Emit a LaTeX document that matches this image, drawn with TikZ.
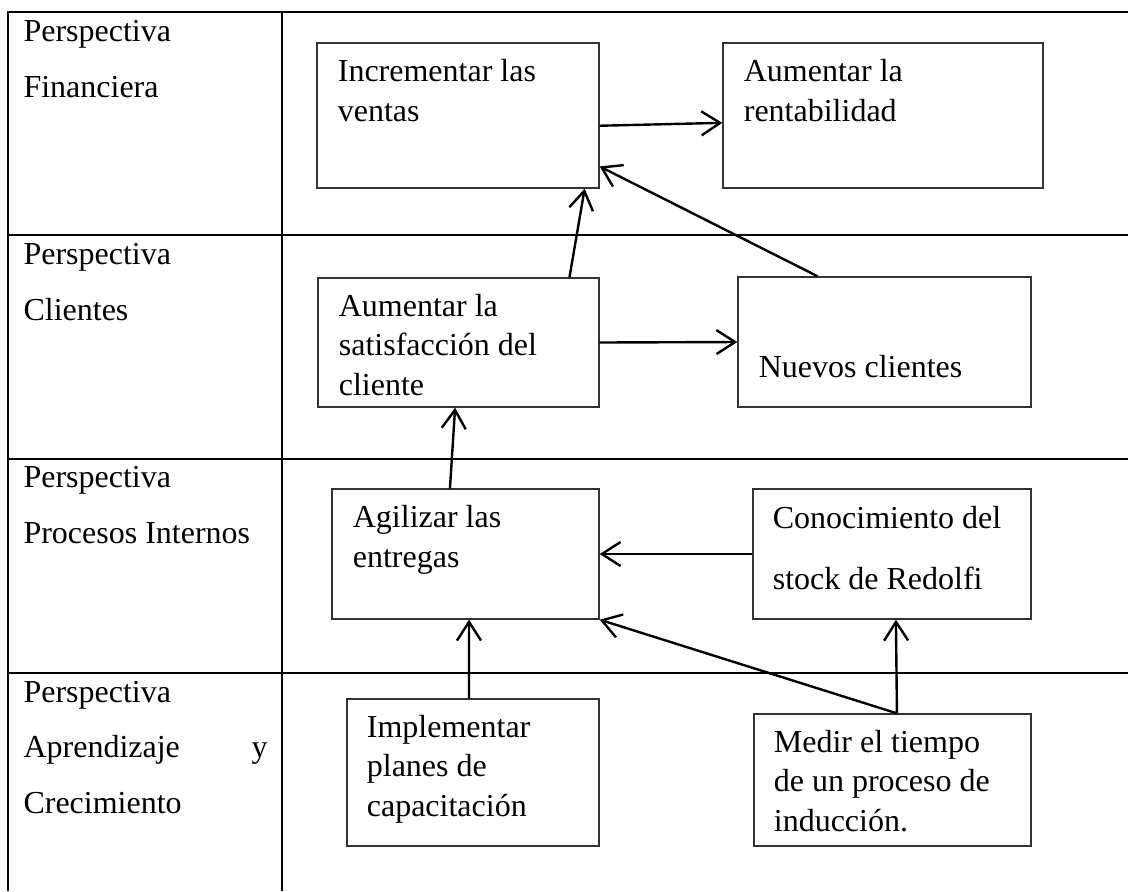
\documentclass[tikz,border=0pt]{standalone}
\usepackage{fontspec}
\setmainfont{Liberation Serif}
\usetikzlibrary{arrows.meta,fit,calc}
\tikzset{
  caja/.style={draw=black!80, line width=0.5pt, inner sep=0pt},
  texto/.style={anchor=base west, inner sep=0pt, align=left, font=\fontsize{12}{14.8}\selectfont},
  persp/.style={anchor=base west, inner sep=0pt, align=left, font=\fontsize{12}{20.7}\selectfont},
  flecha/.style={-{Straight Barb[length=7pt,width=9pt]}, line width=0.9pt},
  tabla/.style={line width=1pt}
}

\begin{document}
\begin{tikzpicture}[x=0.375pt,y=-0.375pt]
\useasboundingbox (0,0) rectangle (1128,891);
\draw[tabla] (1128,12) -- (8,12) -- (8,891);
\draw[tabla] (282,12) -- (282,891);
\draw[tabla] (8,235) -- (1128,235);
\draw[tabla] (8,459) -- (1128,459);
\draw[tabla] (8,673) -- (1128,673);
\node[persp] (fin) at (23,97) {Perspectiva\\Financiera};
\node[persp] (cli) at (23,320) {Perspectiva\\Clientes};
\node[persp] (pro) at (23,543) {Perspectiva\\Procesos Internos};
\node[persp] (apr) at (23,813) {Perspectiva\\\makebox[91.5pt][l]{Aprendizaje\hfill y}\\Crecimiento};
\node[caja, fit={(317,43) (599,188)}] (ventas) {};
\node[caja, fit={(723,43) (1043,188)}] (rentab) {};
\node[caja, fit={(318,278) (599,407)}] (satisf) {};
\node[caja, fit={(738,277) (1031,407)}] (nuevos) {};
\node[caja, fit={(332,489) (599,619)}] (agil) {};
\node[caja, fit={(753,489) (1031,619)}] (conoc) {};
\node[caja, fit={(347,699) (599,846)}] (implem) {};
\node[caja, fit={(754,714) (1031,846)}] (medir) {};
\node[texto] (ventas-t) at ([shift={(21,79)}]ventas.north west) {Incrementar las\\ventas};
\node[texto] (rentab-t) at ([shift={(21,79)}]rentab.north west) {Aumentar la\\rentabilidad};
\node[texto] (satisf-t) at ([shift={(21,118)}]satisf.north west) {Aumentar la\\satisfacción del\\cliente};
\node[texto] (nuevos-t) at ([shift={(21,101)}]nuevos.north west) {Nuevos clientes};
\node[texto] (agil-t) at ([shift={(21,79)}]agil.north west) {Agilizar las\\entregas};
\node[texto] (conoc-t) at ([shift={(20,101)}]conoc.north west) {Conocimiento del\\[8.1pt]stock de Redolfi};
\node[texto] (implem-t) at ([shift={(20,118)}]implem.north west) {Implementar\\planes de\\capacitación};
\node[texto] (medir-t) at ([shift={(20,118)}]medir.north west) {Medir el tiempo\\de un proceso de\\inducción.};
\coordinate (medir-n) at ($(medir.north west)!.516!(medir.north east)$);
\draw[flecha] ($(ventas.north east)!.57!(ventas.south east)$) -- ($(rentab.north west)!.55!(rentab.south west)$);
\draw[flecha] ($(satisf.north west)!.893!(satisf.north east)$) -- ($(ventas.south west)!.947!(ventas.south east)$);
\draw[flecha] ($(nuevos.north west)!.273!(nuevos.north east)$) -- ($(ventas.north east)!.848!(ventas.south east)$);
\draw[flecha] (satisf.east) -- (nuevos.west);
\draw[flecha] ($(agil.north west)!.442!(agil.north east)$) -- ($(satisf.south west)!.488!(satisf.south east)$);
\draw[flecha] (conoc.west) -- (agil.east);
\draw[flecha] ($(implem.north west)!.484!(implem.north east)$) -- ($(agil.south west)!.513!(agil.south east)$);
\draw[flecha] (medir-n) -- (agil.south east);
\draw[flecha] (medir-n) -- ($(conoc.south west)!.514!(conoc.south east)$);
\end{tikzpicture}
\end{document}
